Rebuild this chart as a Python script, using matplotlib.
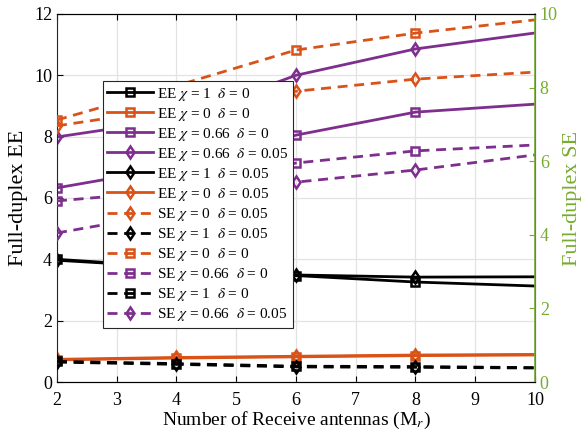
import numpy as np
import matplotlib
matplotlib.use('Agg')
import matplotlib.pyplot as plt

plt.rcParams['font.family'] = ['Liberation Serif', 'DejaVu Serif']
plt.rcParams['mathtext.fontset'] = 'stix'

# данные
antennas = [2, 4, 6, 8, 10]

# EE, левая ось
ee_x1_d0 = [4.00, 3.75, 3.47, 3.26, 3.13]
ee_x0_d0 = [0.72, 0.78, 0.82, 0.86, 0.88]
ee_x066_d0 = [6.33, 7.01, 8.05, 8.80, 9.06]
ee_x066_d005 = [7.99, 8.57, 10.00, 10.86, 11.38]
ee_x1_d005 = [3.97, 3.74, 3.49, 3.42, 3.43]
ee_x0_d005 = [0.74, 0.80, 0.84, 0.88, 0.90]

# SE, правая ось
se_x0_d005 = [6.96, 7.45, 7.90, 8.23, 8.42]
se_x1_d005 = [0.54, 0.48, 0.41, 0.40, 0.38]
se_x0_d0 = [7.12, 8.05, 9.02, 9.48, 9.84]
se_x066_d0 = [4.92, 5.20, 5.95, 6.28, 6.44]
se_x1_d0 = [0.56, 0.50, 0.43, 0.42, 0.39]
se_x066_d005 = [4.05, 4.62, 5.43, 5.76, 6.17]

BLACK = 'black'
ORANGE = '#D95319'
PURPLE = '#7E2F8E'
GREEN = '#77AC30'

ee_series = [
    (ee_x1_d0, BLACK, 's', r'EE $\chi$ = 1  $\delta$ = 0'),
    (ee_x0_d0, ORANGE, 's', r'EE $\chi$ = 0  $\delta$ = 0'),
    (ee_x066_d0, PURPLE, 's', r'EE $\chi$ = 0.66  $\delta$ = 0'),
    (ee_x066_d005, PURPLE, 'd', r'EE $\chi$ = 0.66  $\delta$ = 0.05'),
    (ee_x1_d005, BLACK, 'd', r'EE $\chi$ = 1  $\delta$ = 0.05'),
    (ee_x0_d005, ORANGE, 'd', r'EE $\chi$ = 0  $\delta$ = 0.05'),
]
se_series = [
    (se_x0_d005, ORANGE, 'd', r'SE $\chi$ = 0  $\delta$ = 0.05'),
    (se_x1_d005, BLACK, 'd', r'SE $\chi$ = 1  $\delta$ = 0.05'),
    (se_x0_d0, ORANGE, 's', r'SE $\chi$ = 0  $\delta$ = 0'),
    (se_x066_d0, PURPLE, 's', r'SE $\chi$ = 0.66  $\delta$ = 0'),
    (se_x1_d0, BLACK, 's', r'SE $\chi$ = 1  $\delta$ = 0'),
    (se_x066_d005, PURPLE, 'd', r'SE $\chi$ = 0.66  $\delta$ = 0.05'),
]

fig = plt.figure(figsize=(5.85, 4.34), dpi=100)
ax = fig.add_axes([0.0974, 0.1198, 0.817, 0.848])
ax2 = ax.twinx()

handles = []
for vals, color, marker, label in ee_series:
    h, = ax.plot(antennas, vals, color=color, lw=2, marker=marker,
                 markersize=6, markerfacecolor='none', markeredgewidth=1.8,
                 markevery=slice(0, 4), label=label)
    handles.append(h)

for vals, color, marker, label in se_series:
    h, = ax2.plot(antennas, vals, color=color, lw=2, marker=marker,
                  markersize=6, markerfacecolor='none', markeredgewidth=1.8,
                  markevery=slice(0, 4), label=label, dashes=(3.6, 2.4))
    handles.append(h)

ax.set_xlim(2, 10)
ax.set_ylim(0, 12)
ax2.set_ylim(0, 10)
ax.set_xticks(np.arange(2, 11, 1))
ax.set_yticks(np.arange(0, 13, 2))
ax2.set_yticks(np.arange(0, 11, 2))

ax.grid(True, color='#e3e3e3', lw=0.9)
ax.set_axisbelow(True)

ax.tick_params(direction='in', labelsize=13, top=True, length=4, width=0.8)
ax.tick_params(axis='x', pad=7)
ax.tick_params(axis='y', right=False)
ax2.tick_params(direction='in', labelsize=13, colors=GREEN, length=4, width=0.8)

for s in ['left', 'top', 'bottom']:
    ax.spines[s].set_color('#262626')
ax2.spines['right'].set_color(GREEN)
ax2.spines['right'].set_linewidth(1.2)
ax2.spines['left'].set_visible(False)

ax.set_xlabel(r'Number of Receive antennas (M$_r$)', fontsize=14, labelpad=1)
ax.set_ylabel('Full-duplex EE', fontsize=16, labelpad=4)
ax2.set_ylabel('Full-duplex SE', fontsize=16, color=GREEN, labelpad=4)

leg = ax2.legend(handles=handles, loc='upper left',
                 bbox_to_anchor=(0.096, 0.818), borderaxespad=0,
                 fontsize=11, frameon=True, fancybox=False,
                 edgecolor='#262626', framealpha=1, handlelength=3.0,
                 handletextpad=0.25, labelspacing=0.2, borderpad=0.3)
leg.get_frame().set_linewidth(0.8)

plt.savefig('out.png', dpi=100)
plt.close()
